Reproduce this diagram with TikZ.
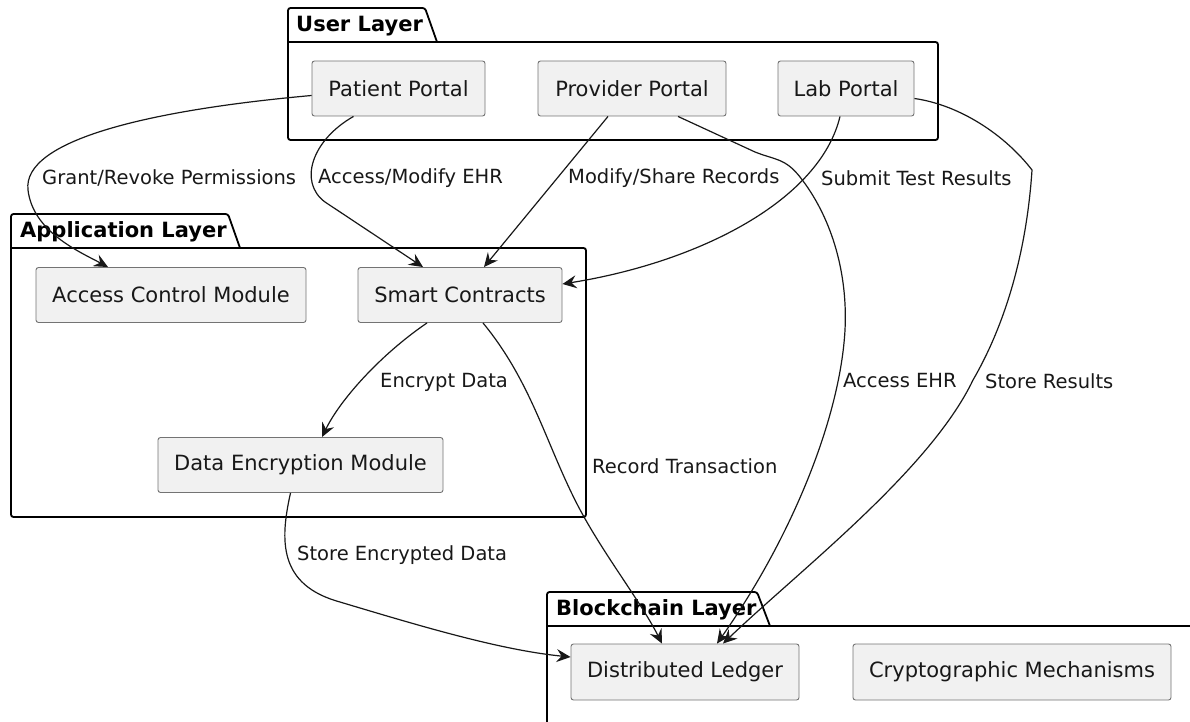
\documentclass[tikz,border=0pt]{standalone}
\usepackage{fontspec}
\setmainfont{DejaVu Sans}
\usetikzlibrary{arrows.meta,calc}
\definecolor{boxfill}{HTML}{F1F1F1}
\definecolor{ink}{HTML}{181818}
\begin{document}
\begin{tikzpicture}[x=1pt,y=-1pt,
  comp/.style={draw=black!55, line width=0.9pt, fill=boxfill, rounded corners=2.5pt,
    minimum height=55pt, inner sep=0pt, font=\fontsize{21}{25}\selectfont, text=ink},
  pkg/.style={draw=black, line width=1.8pt, rounded corners=2.5pt},
  pkgtitle/.style={anchor=west, inner sep=0pt, font=\fontsize{21}{25}\selectfont\bfseries, text=black},
  lbl/.style={anchor=west, inner sep=0pt, font=\fontsize{19.5}{23}\selectfont, text=ink},
  conn/.style={draw=ink, line width=1.2pt, -{Stealth[length=14pt,width=13pt,inset=5pt]}}]
\useasboundingbox (0,0) rectangle (1190,722);

% ---------- packages ----------
% User Layer
\draw[pkg] (437,42) -- (938,42) -- (938,140) -- (288,140) -- (288,8) -- (425,8) -- (437,42);
\draw[pkg] (288,42) -- (437,42);
\node[pkgtitle] (tUser) at (296,26) {User Layer};
% Application Layer
\draw[pkg] (240,248) -- (586,248) -- (586,517) -- (11,517) -- (11,214) -- (228,214) -- (240,248);
\draw[pkg] (11,248) -- (240,248);
\node[pkgtitle] (tApp) at (20,232) {Application Layer};
% Blockchain Layer (cut by the page edge)
\draw[pkg] (770,626) -- (1200,626);
\draw[pkg] (547,740) -- (547,592) -- (757,592) -- (770,626);
\draw[pkg] (547,626) -- (770,626);
\node[pkgtitle] (tBc) at (556,610) {Blockchain Layer};

% ---------- components ----------
\node[comp, minimum width=173pt] (pat)  at (398.5,88.5) {Patient Portal};
\node[comp, minimum width=188pt] (prov) at (632,88.5)   {Provider Portal};
\node[comp, minimum width=136pt] (lab)  at (846,88.5)   {Lab Portal};
\node[comp, minimum width=270pt] (acm)  at (171,295)    {Access Control Module};
\node[comp, minimum width=204pt] (sc)   at (460,295)    {Smart Contracts};
\node[comp, minimum width=285pt] (dem)  at (300.5,465)  {Data Encryption Module};
\node[comp, minimum width=228pt, minimum height=56pt] (dl) at (685,672) {Distributed Ledger};
\node[comp, minimum width=318pt, minimum height=56pt] (cm) at (1012,672) {Cryptographic Mechanisms};

% ---------- connectors ----------
\draw[conn] ($(pat.west)+(0,7)$) .. controls (150,110) and (22,140) .. (28,190)
  .. controls (33,232) and (80,252) .. ($(acm.north)+(-63,0)$);
\draw[conn] ($(pat.south)+(-45,0)$) .. controls (312,140) and (298,182) .. (325,202)
  -- ($(sc.north)+(-37,0)$);
\draw[conn] ($(prov.south)+(-24,0)$) -- ($(sc.north)+(24,0)$);
\draw[conn] ($(lab.south)+(-6,0)$) .. controls (820,200) and (700,262) .. ($(sc.east)+(0,-11)$);
\draw[conn] ($(prov.south)+(46,0)$) -- (755,152) .. controls (775,160) and (785,158) .. (800,177)
  .. controls (830,215) and (848,270) .. (845,330)
  .. controls (840,420) and (790,540) .. ($(dl.north)+(32,0)$);
\draw[conn] ($(lab.east)+(0,10)$) .. controls (960,105) and (1005,135) .. (1032,170)
  .. controls (1026,260) and (1002,330) .. (973,380)
  .. controls (930,470) and (800,570) .. ($(dl.north)+(38,0)$);
\draw[conn] ($(sc.south)+(-33,0)$) .. controls (380,355) and (340,400) .. ($(dem.north)+(21.5,0)$);
\draw[conn] ($(sc.south)+(23,0)$) .. controls (530,380) and (545,440) .. (575,500)
  .. controls (600,550) and (640,600) .. ($(dl.north)+(-23,0)$);
\draw[conn] ($(dem.south)+(-10,0)$) .. controls (280,540) and (278,585) .. (340,602)
  .. controls (420,626) and (500,650) .. ($(dl.west)+(0,-15)$);

% ---------- labels ----------
\node[lbl] (l1) at (42,178)  {Grant/Revoke Permissions};
\node[lbl] (l2) at (318,178) {Access/Modify EHR};
\node[lbl] (l3) at (568,178) {Modify/Share Records};
\node[lbl] (l4) at (821,178) {Submit Test Results};
\node[lbl] (l5) at (380,382) {Encrypt Data};
\node[lbl] (l6) at (843,381) {Access EHR};
\node[lbl] (l7) at (985,381) {Store Results};
\node[lbl] (l8) at (592,466) {Record Transaction};
\node[lbl] (l9) at (297,555) {Store Encrypted Data};
\end{tikzpicture}
\end{document}
